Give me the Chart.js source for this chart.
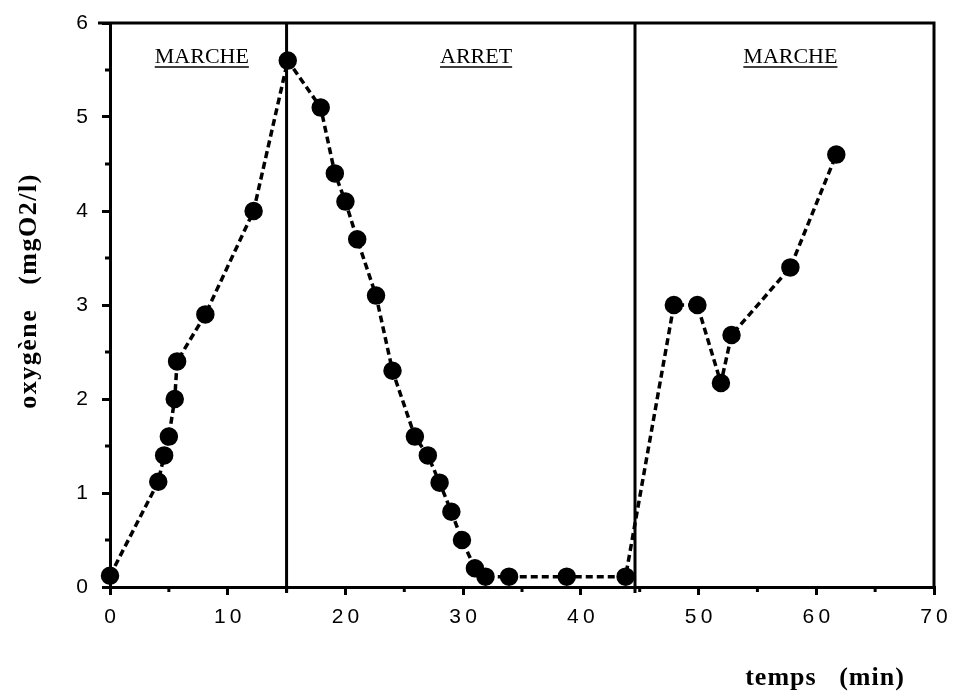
<!DOCTYPE html>
<html>
<head>
<meta charset="utf-8">
<script src="https://cdn.jsdelivr.net/npm/chart.js@4"></script>
<style>
  html, body { margin: 0; padding: 0; background: #fff; }
  #wrap { width: 953px; height: 692px; }
</style>
</head>
<body>
<div id="wrap"><canvas id="oxyChart" width="953" height="692"></canvas></div>
<script>
// temps (min) and oxygène (mgO2/l)
const temps = [0, 4.1, 4.6, 5, 5.5, 5.7, 8.1, 12.2, 15.1, 17.9, 19.1, 20, 21, 22.6, 24, 25.9, 27, 28, 29, 29.9, 31, 31.9, 33.9, 38.8, 43.8, 47.9, 49.9, 51.9, 52.8, 57.8, 61.7];
const oxygene = [0.12, 1.12, 1.4, 1.6, 2.0, 2.4, 2.9, 4.0, 5.6, 5.1, 4.4, 4.1, 3.7, 3.1, 2.3, 1.6, 1.4, 1.11, 0.8, 0.5, 0.2, 0.11, 0.11, 0.11, 0.11, 3.0, 3.0, 2.17, 2.68, 3.4, 4.6];

const phaseBounds = [15, 44.6];
const phaseLabels = ["MARCHE", "ARRET", "MARCHE"];
const phaseLabelX = [7.8, 31.1, 57.8];

const xTicks = [0, 10, 20, 30, 40, 50, 60, 70];
const yTicks = [0, 1, 2, 3, 4, 5, 6];

const points = temps.map((t, i) => ({ x: t, y: oxygene[i] }));

const decor = {
  id: "decor",
  afterDraw(chart) {
    const ctx = chart.ctx;
    const xs = chart.scales.x, ys = chart.scales.y;
    const a = chart.chartArea;
    ctx.save();
    ctx.strokeStyle = "#000";
    ctx.lineWidth = 3;
    // top and right frame
    ctx.beginPath();
    ctx.moveTo(a.left - 12, a.top);
    ctx.lineTo(a.right, a.top);
    ctx.lineTo(a.right, a.bottom);
    ctx.stroke();
    // phase separators
    phaseBounds.forEach(v => {
      const px = xs.getPixelForValue(v);
      ctx.beginPath();
      ctx.moveTo(px, a.top);
      ctx.lineTo(px, a.bottom + 6);
      ctx.stroke();
    });
    // minor ticks
    for (let v = 5; v < 70; v += 10) {
      const px = xs.getPixelForValue(v);
      ctx.beginPath();
      ctx.moveTo(px, a.bottom);
      ctx.lineTo(px, a.bottom + 5);
      ctx.stroke();
    }
    for (let v = 0.5; v < 6; v += 1) {
      const py = ys.getPixelForValue(v);
      ctx.beginPath();
      ctx.moveTo(a.left, py);
      ctx.lineTo(a.left - 5, py);
      ctx.stroke();
    }
    // phase labels
    ctx.fillStyle = "#000";
    ctx.font = "22px 'Liberation Serif'";
    ctx.textAlign = "center";
    ctx.textBaseline = "alphabetic";
    phaseLabels.forEach((lab, i) => {
      const px = xs.getPixelForValue(phaseLabelX[i]);
      const w = ctx.measureText(lab).width;
      ctx.fillText(lab, px, 63);
      ctx.lineWidth = 1.5;
      ctx.beginPath();
      ctx.moveTo(px - w / 2, 67);
      ctx.lineTo(px + w / 2, 67);
      ctx.stroke();
    });
    // axis titles
    ctx.font = "bold 26px 'Liberation Serif'";
    ctx.textBaseline = "middle";
    ctx.letterSpacing = "1px";
    ctx.fillText("temps   (min)", 825, 678);
    ctx.letterSpacing = "1.5px";
    ctx.translate(29, 291);
    ctx.rotate(-Math.PI / 2);
    ctx.fillText("oxygène   (mgO2/l)", 0, 0);
    ctx.restore();
  }
};

new Chart(document.getElementById("oxyChart"), {
  type: "scatter",
  data: {
    datasets: [{
      data: points,
      showLine: true,
      borderColor: "#000",
      borderWidth: 3.5,
      borderDash: [7, 4],
      pointRadius: 7.5,
      pointHoverRadius: 7.5,
      pointBackgroundColor: "#000",
      pointBorderColor: "#000",
      clip: false
    }]
  },
  options: {
    responsive: false,
    animation: false,
    layout: { padding: { top: 23, right: 19, left: 0, bottom: 0 } },
    plugins: { legend: { display: false }, tooltip: { enabled: false } },
    scales: {
      x: {
        type: "linear",
        min: 0, max: 70,
        afterBuildTicks: s => { s.ticks = xTicks.map(v => ({ value: v })); },
        afterFit: s => { s.height = 105; s.paddingLeft = 0; s.paddingRight = 0; },
        border: { display: true, color: "#000", width: 3 },
        grid: { drawOnChartArea: false, drawTicks: true, tickLength: 8, color: "#000", lineWidth: 3 },
        ticks: {
          color: "#000",
          padding: 10,
          font: { family: "'Liberation Sans'", size: 21 },
          callback: v => String(v).split("").join("\u2009")
        }
      },
      y: {
        type: "linear",
        min: 0, max: 6,
        afterBuildTicks: s => { s.ticks = yTicks.map(v => ({ value: v })); },
        afterFit: s => { s.width = 110; s.paddingTop = 0; s.paddingBottom = 0; },
        border: { display: true, color: "#000", width: 3 },
        grid: { drawOnChartArea: false, drawTicks: true, tickLength: 8, color: "#000", lineWidth: 3 },
        ticks: {
          color: "#000",
          padding: 14,
          font: { family: "'Liberation Sans'", size: 21 }
        }
      }
    }
  },
  plugins: [decor]
});
</script>
</body>
</html>
